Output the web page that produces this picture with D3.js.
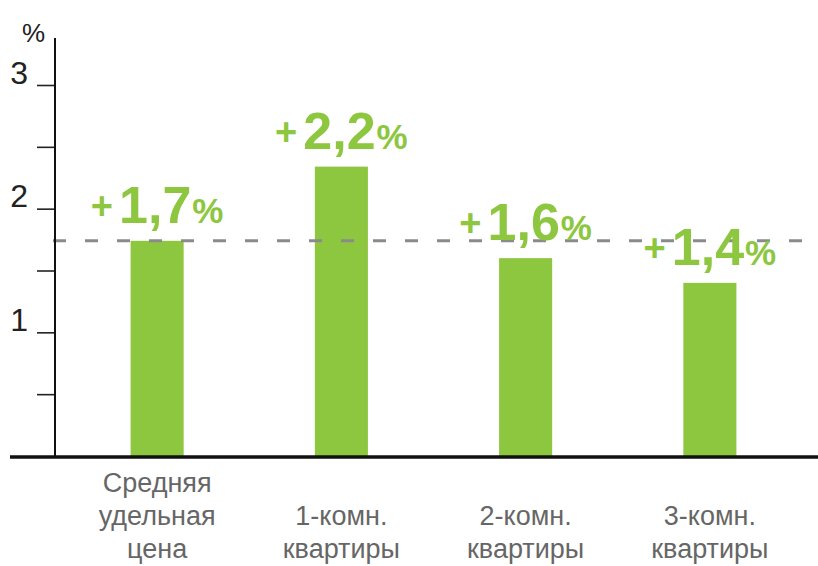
<!DOCTYPE html>
<html lang="ru">
<head>
    <meta charset="UTF-8">
    <title>Рост цен</title>
    <script src="https://d3js.org/d3.v7.min.js"></script>
    <style>
        body { margin: 0; background: #fff; }
        svg { display: block; }
    </style>
</head>
<body>
<svg id="chart"></svg>
<script>
    // data
    const categories = [
        ["Средняя", "удельная", "цена"],
        ["1-комн.", "квартиры"],
        ["2-комн.", "квартиры"],
        ["3-комн.", "квартиры"]
    ];
    const barValues = [1.74, 2.34, 1.6, 1.4];
    const valueLabels = ["1,7", "2,2", "1,6", "1,4"];
    const averageLine = 1.74;
    const yTicks = [0.5, 1, 1.5, 2, 2.5, 3];

    const width = 818;
    const height = 566;
    const green = "#8dc63f";

    const svg = d3.select("#chart")
        .attr("width", width)
        .attr("height", height);

    const x = d3.scaleBand()
        .domain(d3.range(categories.length))
        .range([65, 802])
        .paddingInner(0.712)
        .paddingOuter(0.356);

    const y = d3.scaleLinear()
        .domain([0, 3])
        .range([456, 85]);

    // bars
    svg.append("g")
        .selectAll("rect")
        .data(barValues)
        .join("rect")
        .attr("x", (d, i) => x(i))
        .attr("y", d => y(d))
        .attr("width", x.bandwidth())
        .attr("height", d => y(0) - y(d))
        .attr("fill", green);

    // average dashed line
    svg.append("line")
        .attr("x1", 53)
        .attr("x2", width)
        .attr("y1", y(averageLine))
        .attr("y2", y(averageLine))
        .attr("stroke", "#8a8a8a")
        .attr("stroke-width", 3)
        .attr("stroke-dasharray", "13,19");

    // y axis
    const yAxis = svg.append("g")
        .attr("transform", "translate(55,0)")
        .call(d3.axisLeft(y)
            .tickValues(yTicks)
            .tickSize(18)
            .tickFormat(d => Number.isInteger(d) ? d : ""));

    yAxis.select(".domain").remove();
    yAxis.selectAll(".tick line")
        .attr("stroke", "#222")
        .attr("stroke-width", 1.6);
    yAxis.selectAll(".tick text")
        .attr("x", -27)
        .attr("dy", "-2px")
        .attr("fill", "#222")
        .style("font-family", "'Liberation Sans Narrow', 'Liberation Sans', Arial, sans-serif")
        .style("font-size", "32px");

    svg.append("line")
        .attr("x1", 55).attr("x2", 55)
        .attr("y1", 38).attr("y2", 456)
        .attr("stroke", "#111")
        .attr("stroke-width", 2);

    svg.append("text")
        .attr("x", 22)
        .attr("y", 42)
        .attr("fill", "#222")
        .style("font-family", "'Liberation Sans', Arial, sans-serif")
        .style("font-size", "26px")
        .text("%");

    // x baseline
    svg.append("line")
        .attr("x1", 10).attr("x2", width)
        .attr("y1", 457).attr("y2", 457)
        .attr("stroke", "#111")
        .attr("stroke-width", 3.5);

    // value labels
    const labels = svg.append("g")
        .selectAll("text")
        .data(barValues)
        .join("text")
        .attr("x", (d, i) => x(i) + x.bandwidth() / 2)
        .attr("y", d => y(d) - 18)
        .attr("text-anchor", "middle")
        .attr("fill", green)
        .style("font-family", "'Liberation Sans Narrow', 'Arial Narrow', 'Liberation Sans', sans-serif")
        .style("font-weight", "bold");

    labels.append("tspan")
        .attr("dy", -4)
        .style("font-size", "38px")
        .text("+");
    labels.append("tspan")
        .attr("dx", 6)
        .attr("dy", 4)
        .style("font-size", "52px")
        .text((d, i) => valueLabels[i]);
    labels.append("tspan")
        .attr("dx", 1)
        .style("font-size", "35px")
        .text("%");

    // category labels
    const cats = svg.append("g")
        .selectAll("text")
        .data(categories)
        .join("text")
        .attr("text-anchor", "middle")
        .attr("fill", "#666")
        .style("font-family", "'Liberation Sans', Arial, sans-serif")
        .style("font-size", "27px");

    cats.selectAll("tspan")
        .data((d, i) => d.map((line, j) => ({line, j, n: d.length, i})))
        .join("tspan")
        .attr("x", d => x(d.i) + x.bandwidth() / 2)
        .attr("y", d => 558 - (d.n - 1 - d.j) * 33)
        .text(d => d.line);
</script>
</body>
</html>
